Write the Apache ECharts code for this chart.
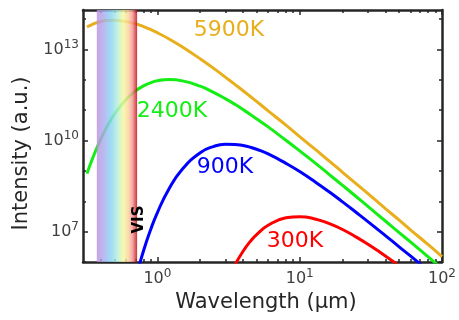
<!DOCTYPE html>
<html>
<head>
<meta charset="utf-8">
<script src="https://cdn.jsdelivr.net/npm/echarts@6/dist/echarts.min.js"></script>
<style>
  body { margin: 0; background: #fff; }
  #chart { width: 459px; height: 320px; }
</style>
</head>
<body>
<div id="chart"></div>
<script>
// wavelength in um
const wavelength = [0.32, 0.35, 0.4, 0.45, 0.5, 0.6, 0.7, 0.8, 0.9, 1, 1.2, 1.5, 2, 2.5, 3, 3.5,
    4, 4.5, 5, 6, 8, 10, 13, 16, 20, 25, 30, 40, 50, 60, 80, 100];

// intensity as log10 (a.u.)
const logI5900 = [13.74, 13.83, 13.92, 13.955, 13.963, 13.92, 13.85, 13.755, 13.655, 13.55, 13.355, 13.08,
    12.69, 12.37, 12.09, 11.85, 11.64, 11.45, 11.28, 10.98, 10.51, 10.13, 9.69, 9.34, 8.955, 8.57, 8.26,
    7.76, 7.38, 7.06, 6.57, 6.18];
const logI2400 = [8.91, 9.41, 10.05, 10.52, 10.87, 11.34, 11.63, 11.80, 11.91, 11.97, 12.01, 11.965,
    11.79, 11.58, 11.38, 11.195, 11.02, 10.86, 10.71, 10.45, 10.01, 9.66, 9.24, 8.895, 8.525, 8.15, 7.84,
    7.35, 6.97, 6.66, 6.17, 5.78];
const logI900 = [null, null, null, null, null, null, 5.43, 6.38, 7.09, 7.63, 8.39, 9.06,
    9.60, 9.81, 9.875, 9.873, 9.835, 9.78, 9.71, 9.56, 9.25, 8.98, 8.62, 8.32, 7.98, 7.63, 7.34,
    6.87, 6.50, 6.20, 5.71, null];
const logI300 = [null, null, null, null, null, null, null, null, null, null, null, null,
    null, null, null, 5.90, 6.355, 6.68, 6.91, 7.21, 7.455, 7.494, 7.41, 7.27, 7.07, 6.82, 6.59,
    6.20, 5.87, null, null, null];

const curveNames = ['5900K', '2400K', '900K', '300K'];
const curveColors = ['#E8AE1C', '#14EE14', '#0000FF', '#FF0000'];
const curveData = [logI5900, logI2400, logI900, logI300];

const visBand = [0.375, 0.72];

// axis ticks
const xMajor = [1, 10, 100];
const xMinor = [0.4, 0.5, 0.6, 0.7, 0.8, 0.9, 2, 3, 4, 5, 6, 7, 8, 9, 20, 30, 40, 50, 60, 70, 80, 90];
const yLabelExp = [7, 10, 13];
const yMinorExp = [6, 8, 9, 11, 12, 14];

const xMin = Math.log10(0.3);
const xMax = 2;
const yMin = 6;
const yMax = 14.3;

const FONT = 'DejaVu Sans';
const DARK = '#262626';

const labelRich = {
    b: { fontSize: 16, color: '#404040', fontFamily: FONT, lineHeight: 21 },
    s: { fontSize: 12, color: '#404040', fontFamily: FONT, lineHeight: 12, verticalAlign: 'top' }
};

function xAxisDef(position, values, len, withLine, withLabel) {
    return {
        type: 'value', gridIndex: 0, position: position, min: xMin, max: xMax,
        axisLine: { show: withLine, onZero: false, lineStyle: { color: DARK, width: 2.5 } },
        axisTick: { show: true, inside: true, length: len, customValues: values, lineStyle: { color: DARK, width: 1.5 } },
        axisLabel: {
            show: withLabel, customValues: values, margin: 6,
            formatter: v => '{b|10}{s|' + Math.round(v) + '}', rich: labelRich
        },
        splitLine: { show: false }
    };
}

function yAxisDef(position, values, len, withLine, withLabel) {
    return {
        type: 'value', gridIndex: 0, position: position, min: yMin, max: yMax,
        axisLine: { show: withLine, onZero: false, lineStyle: { color: DARK, width: 2.5 } },
        axisTick: { show: true, inside: true, length: len, customValues: values, lineStyle: { color: DARK, width: 1.5 } },
        axisLabel: {
            show: withLabel, customValues: values, margin: 4,
            formatter: v => '{b|10}{s|' + Math.round(v) + '}', rich: labelRich
        },
        splitLine: { show: false }
    };
}

const xMajorLog = xMajor.map(v => Math.log10(v));
const xMinorLog = xMinor.map(v => Math.log10(v));

const series = curveData.map((vals, k) => ({
    name: curveNames[k],
    type: 'line',
    xAxisIndex: 0,
    yAxisIndex: 0,
    smooth: true,
    showSymbol: false,
    clip: true,
    lineStyle: { color: curveColors[k], width: 3 },
    data: wavelength.map((w, i) => [Math.log10(w), vals[i]]).filter(p => p[1] !== null)
}));

// visible band drawn over the curves
series.push({
    type: 'custom',
    xAxisIndex: 0,
    yAxisIndex: 0,
    z: 10,
    silent: true,
    data: [[Math.log10(visBand[0]), Math.log10(visBand[1])]],
    renderItem: function (params, api) {
        const p0 = api.coord([api.value(0), yMax]);
        const p1 = api.coord([api.value(1), yMin]);
        return {
            type: 'rect',
            shape: { x: p0[0], y: p0[1], width: p1[0] - p0[0], height: p1[1] - p0[1] },
            style: {
                opacity: 0.82,
                fill: new echarts.graphic.LinearGradient(0, 0, 1, 0, [
                    { offset: 0, color: '#c090e0' },
                    { offset: 0.18, color: '#a8acee' },
                    { offset: 0.35, color: '#88d4f4' },
                    { offset: 0.52, color: '#b8f0d8' },
                    { offset: 0.66, color: '#f4f89c' },
                    { offset: 0.78, color: '#fcd49c' },
                    { offset: 0.88, color: '#f49a9a' },
                    { offset: 0.96, color: '#d83838' },
                    { offset: 1, color: '#a81020' }
                ])
            }
        };
    }
});

const labelPos = [[229, 30], [172, 111], [225, 167], [295, 241]];

const graphic = curveNames.map((n, k) => ({
    type: 'text', x: labelPos[k][0], y: labelPos[k][1], z: 20,
    style: { text: n, fill: curveColors[k], fontSize: 22, fontFamily: FONT, align: 'center', verticalAlign: 'middle' }
}));
graphic.push({
    type: 'text', x: 139.5, y: 219.5, rotation: Math.PI / 2, z: 20,
    style: { text: 'VIS', fill: '#000', fontSize: 15, fontWeight: 'bold', fontFamily: FONT, align: 'center', verticalAlign: 'middle' }
});
graphic.push({
    type: 'text', x: 266, y: 303,
    style: { text: 'Wavelength (\u00b5m)', fill: DARK, fontSize: 21, fontFamily: FONT, align: 'center', verticalAlign: 'middle' }
});
graphic.push({
    type: 'text', x: 22, y: 153.5, rotation: Math.PI / 2,
    style: { text: 'Intensity (a.u.)', fill: DARK, fontSize: 21, fontFamily: FONT, align: 'center', verticalAlign: 'middle' }
});

const myChart = echarts.init(document.getElementById('chart'));
myChart.setOption({
    animation: false,
    backgroundColor: '#fff',
    grid: { left: 83, right: 14, top: 10, bottom: 58 },
    xAxis: [
        xAxisDef('bottom', xMajorLog, 5, true, true),
        xAxisDef('bottom', xMinorLog, 3, false, false),
        xAxisDef('top', xMajorLog, 5, true, false),
        xAxisDef('top', xMinorLog, 3, false, false)
    ],
    yAxis: [
        yAxisDef('left', yLabelExp, 5, true, true),
        yAxisDef('left', yMinorExp, 3, false, false),
        yAxisDef('right', yLabelExp, 5, true, false),
        yAxisDef('right', yMinorExp, 3, false, false)
    ],
    series: series,
    graphic: graphic
});
</script>
</body>
</html>
